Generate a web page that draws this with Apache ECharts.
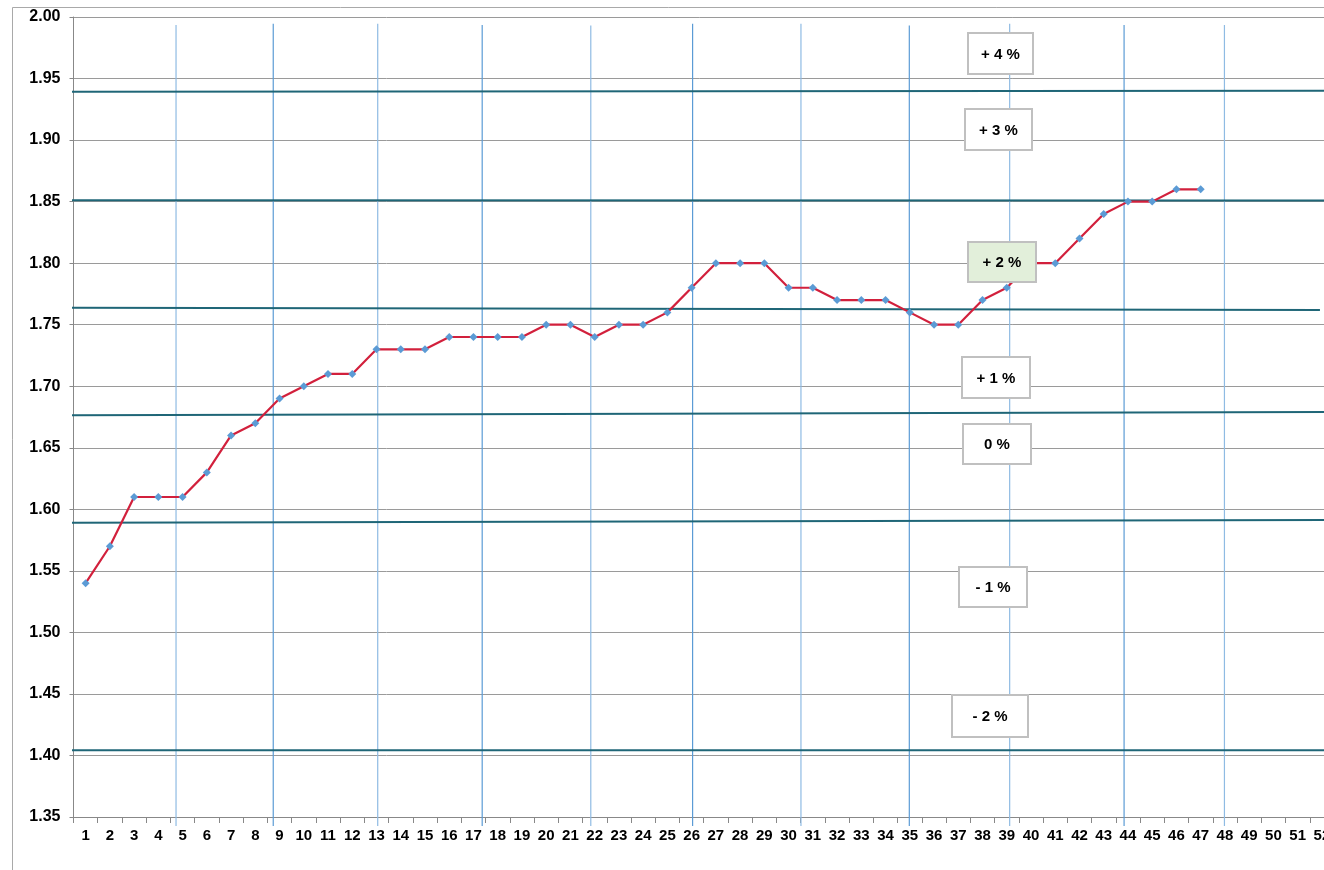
<!DOCTYPE html>
<html>
<head>
<meta charset="utf-8">
<script src="https://cdn.jsdelivr.net/npm/echarts@6/dist/echarts.min.js"></script>
<style>
html,body{margin:0;padding:0;background:#fff;overflow:hidden;}
#chart{width:1324px;height:870px;}
</style>
</head>
<body>
<div id="chart"></div>
<script>
// ---- data ----
const weeks = ['1','2','3','4','5','6','7','8','9','10','11','12','13','14','15','16','17','18','19','20',
  '21','22','23','24','25','26','27','28','29','30','31','32','33','34','35','36','37','38','39','40',
  '41','42','43','44','45','46','47','48','49','50','51','52'];
const prices = [1.54,1.57,1.61,1.61,1.61,1.63,1.66,1.67,1.69,1.70,1.71,1.71,1.73,1.73,1.73,1.74,1.74,1.74,1.74,1.75,
  1.75,1.74,1.75,1.75,1.76,1.78,1.80,1.80,1.80,1.78,1.78,1.77,1.77,1.77,1.76,1.75,1.75,1.77,1.78,1.80,
  1.80,1.82,1.84,1.85,1.85,1.86,1.86];
// reference bands (left value, right value), in axis units; x from -0.47 to 52
const bandLeft  = [1.9393, 1.8511, 1.7638, 1.6764, 1.5891, 1.4042];
const bandRight = [1.9401, 1.8510, 1.7620, 1.6791, 1.5913, 1.4042];
const bandEndX  = [52, 52, 51.42, 52, 52, 52];
// month separators (position on the week scale)
const monthMarks = [4.23, 8.24, 12.55, 16.86, 21.34, 25.54, 30.01, 34.48, 38.62, 43.34, 47.48];
const monthTop = [1.9935, 1.9945, 1.9945, 1.9935, 1.993, 1.9945, 1.9945, 1.993, 1.9945, 1.9935, 1.9935];
const bandLabels = ['+ 4 %','+ 3 %','+ 2 %','+ 1 %','0 %','- 1 %','- 2 %'];
const yTicks = {min:1.35, max:2.00, interval:0.05};

const chart = echarts.init(document.getElementById('chart'));
const font = '"Liberation Sans", Arial, sans-serif';

const series = [];
monthMarks.forEach((m,i)=>{
  series.push({type:'line', xAxisIndex:1, yAxisIndex:0, clip:false, silent:true, symbol:'none', z:2,
    lineStyle:{color: i%2 ? '#5b9bd5' : '#8fbbe3', width:1.2},
    data:[[m, monthTop[i]],[m, 1.3427]]});
});
bandLeft.forEach((v,i)=>{
  series.push({type:'line', xAxisIndex:1, yAxisIndex:0, clip:false, silent:true, symbol:'none', z:3,
    lineStyle:{color:'#1f6677', width:2},
    data:[[-0.47, v],[bandEndX[i], bandRight[i]]]});
});
series.push({type:'line', xAxisIndex:0, yAxisIndex:0, data:prices, z:5,
  symbol:'diamond', symbolSize:8, itemStyle:{color:'#5b9bd5'},
  lineStyle:{color:'#d2203c', width:2.2}});

// annotation boxes
const boxes = [
  {x:968,y:33,w:65,h:41},
  {x:965,y:109,w:67,h:41},
  {x:968,y:242,w:68,h:40,fill:'#e2efda'},
  {x:962,y:357,w:68,h:41},
  {x:963,y:424,w:68,h:40},
  {x:959,y:567,w:68,h:40},
  {x:952,y:695,w:76,h:42}
];
const graphic = [{type:'rect', shape:{x:12.5,y:7.5,width:1400,height:1000}, silent:true, z:0,
  style:{fill:'none', stroke:'#a9a9a9', lineWidth:1}}];
boxes.forEach((b,i)=>{
  graphic.push({type:'rect', z:100, shape:{x:b.x,y:b.y,width:b.w,height:b.h},
    style:{fill:b.fill||'#ffffff', stroke:'#c0c0c0', lineWidth:2}});
  graphic.push({type:'text', z:101, x:b.x+b.w/2, y:b.y+b.h/2+1,
    style:{text:bandLabels[i], fill:'#000', font:'bold 15px '+font, align:'center', verticalAlign:'middle'}});
});

chart.setOption({
  animation:false,
  backgroundColor:'#fff',
  grid:{left:73.5, top:17, width:1260.5, height:800, containLabel:false, outerBoundsMode:'none'},
  xAxis:[{type:'category', data:weeks, boundaryGap:true,
      axisLine:{lineStyle:{color:'#888', width:1}},
      axisTick:{show:true, length:6, lineStyle:{color:'#888'}},
      axisLabel:{interval:0, color:'#000', fontWeight:'bold', fontSize:15, fontFamily:font, margin:11, hideOverlap:false},
      splitLine:{show:false}},
    {type:'value', min:0, max:52, show:false, splitLine:{show:false}}],
  yAxis:[{type:'value', min:yTicks.min, max:yTicks.max, interval:yTicks.interval,
      axisLine:{show:true, lineStyle:{color:'#888', width:1}},
      axisTick:{show:true, length:4, lineStyle:{color:'#888'}},
      axisLabel:{color:'#000', fontWeight:'bold', fontSize:16, fontFamily:font, margin:13,
        formatter:v=>v.toFixed(2)},
      splitLine:{show:true, lineStyle:{color:'#9a9a9a', width:1}}}],
  series:series,
  graphic:graphic
});
</script>
</body>
</html>
